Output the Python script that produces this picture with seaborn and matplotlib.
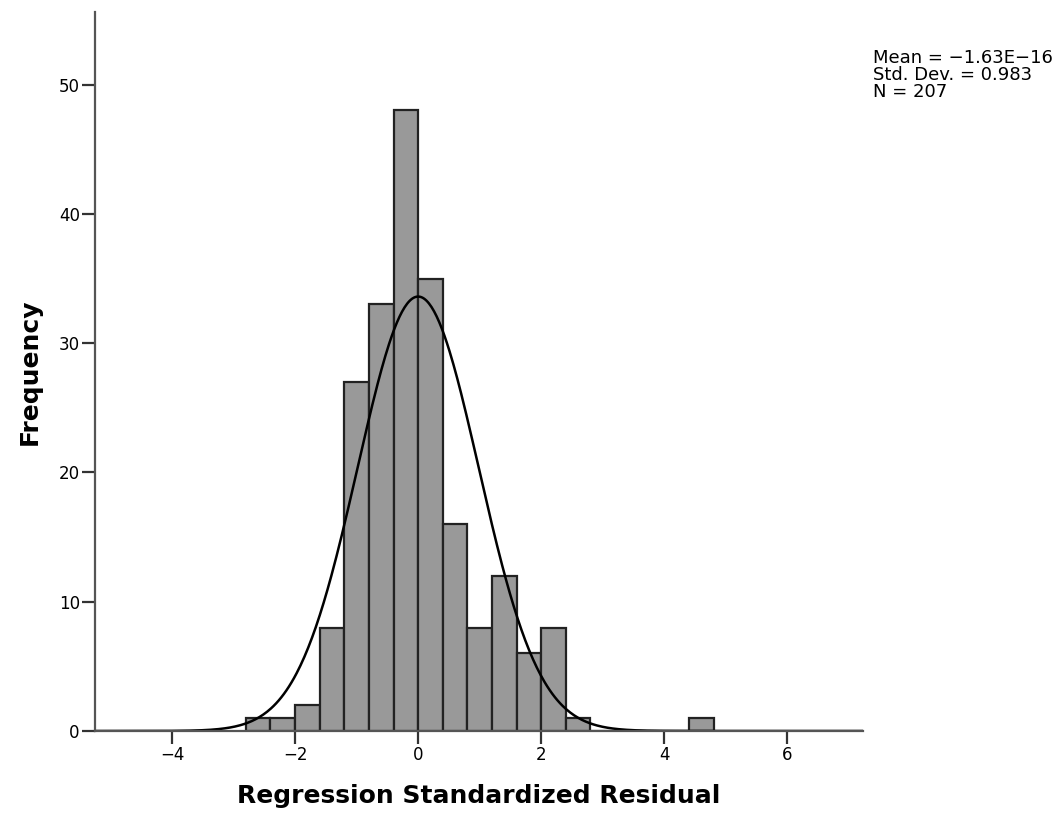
import numpy as np
import pandas as pd
import matplotlib
matplotlib.use("Agg")
import matplotlib.pyplot as plt
import seaborn as sns

# ---- data ----
bin_lefts = [-2.8, -2.4, -2.0, -1.6, -1.2, -0.8, -0.4, 0.0, 0.4, 0.8, 1.2, 1.6, 2.0, 2.4,
             2.8, 3.2, 3.6, 4.0, 4.4]
counts = [1, 1, 2, 8, 27, 33, 48, 35, 16, 8, 12, 6, 8, 1,
          0, 0, 0, 0, 1]
bin_width = 0.4
stat_mean = -1.63e-16
stat_sd = 0.983
stat_n = 207
x_ticks = [-4, -2, 0, 2, 4, 6]
y_ticks = [0, 10, 20, 30, 40, 50]
stats_lines = ["Mean = \u22121.63E\u221216", "Std. Dev. = 0.983", "N = 207"]

sns.set_style("white")
plt.rcParams['font.family'] = ['DejaVu Sans']

fig = plt.figure(figsize=(10.63, 8.14), dpi=100)
ax = fig.add_axes([0.0894, 0.102, 0.722, 0.883])

df = pd.DataFrame({"center": np.array(bin_lefts) + bin_width / 2, "count": counts})
edges = list(bin_lefts) + [bin_lefts[-1] + bin_width]
sns.histplot(data=df, x="center", weights="count", bins=edges, ax=ax,
             color="#999999", edgecolor="#222222", linewidth=1.6, alpha=1.0)

# fitted normal curve
xs = np.linspace(-5.25, 7.25, 600)
ys = stat_n * bin_width / (stat_sd * np.sqrt(2 * np.pi)) * np.exp(-0.5 * ((xs - stat_mean) / stat_sd) ** 2)
sns.lineplot(x=xs, y=ys, ax=ax, color="black", linewidth=1.8)

ax.set_xlim(-5.25, 7.22)
ax.set_ylim(0, 55.6)
ax.set_xticks(x_ticks)
ax.set_xticklabels([str(t).replace("-", "\u2212") for t in x_ticks])
ax.set_yticks(y_ticks)
ax.tick_params(axis="both", which="major", direction="out", length=9.5, width=1.6,
               color="#333333", labelsize=12, labelcolor="black", pad=1.5,
               bottom=True, left=True)
for side in ["top", "right"]:
    ax.spines[side].set_visible(False)
for side in ["left", "bottom"]:
    ax.spines[side].set_color("#555555")
    ax.spines[side].set_linewidth(1.6)

ax.set_xlabel("Regression Standardized Residual", fontsize=18, fontweight="bold",
              labelpad=14, color="black")
ax.set_ylabel("Frequency", fontsize=18, fontweight="bold", labelpad=12, color="black")

fig.text(0.821, 0.908, "\n".join(stats_lines), fontsize=13, va="center", ha="left",
         linespacing=0.95, color="black")

fig.savefig("out.png", dpi=100)
